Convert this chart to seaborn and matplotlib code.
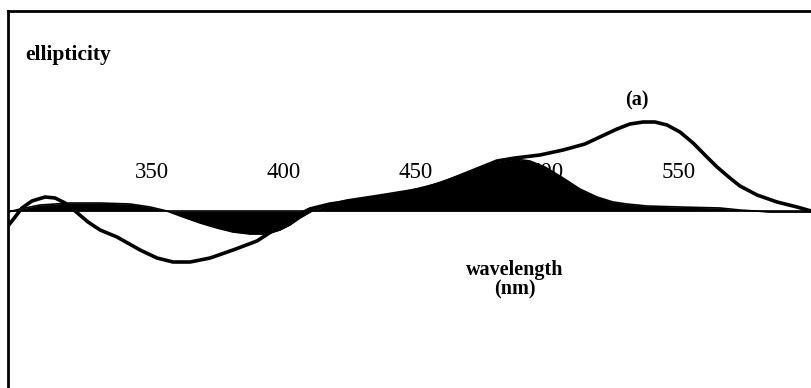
import numpy as np
import pandas as pd
import matplotlib
matplotlib.use("Agg")
import matplotlib.pyplot as plt
import seaborn as sns

# Curve (a): open line (wavelength nm, ellipticity arbitrary units)
wl_a = [296.2, 298.9, 301.5, 305.3, 310.3, 314.1, 317.9, 321.7, 326.6, 331.2,
        337.6, 346.4, 352.8, 358.9, 365.4, 373.0, 381.7, 390.8, 398.4, 403.3,
        407.1, 410.9, 418.5, 429.9, 445.1, 460.3, 471.6, 482.0, 488.8, 498.3,
        507.1, 515.4, 521.1, 527.6, 532.5, 537.5, 542.0, 546.6, 551.5, 556.5,
        561.0, 565.6, 570.5, 574.3, 580.8, 588.4, 596.0, 601.3]
ell_a = [-1.5, -0.6, 0.3, 1.0, 1.4, 1.3, 0.8, 0.0, -1.1, -1.9,
         -2.6, -3.9, -4.7, -5.1, -5.1, -4.7, -3.9, -3.0, -1.7, -0.9,
         -0.3, 0.2, 0.7, 1.1, 1.7, 2.7, 3.9, 5.0, 5.3, 5.6,
         6.1, 6.7, 7.4, 8.2, 8.7, 8.9, 8.9, 8.6, 7.9, 6.8,
         5.6, 4.4, 3.3, 2.5, 1.6, 0.9, 0.4, 0.0]

# Filled curve
wl_b = [296.2, 300.8, 308.4, 319.8, 331.2, 342.6, 350.2, 356.6, 362.7, 369.2,
        375.6, 381.7, 388.2, 394.6, 399.5, 403.3, 407.1, 411.7, 418.5, 425.0,
        437.5, 453.9, 463.0, 471.6, 479.3, 484.3, 488.8, 494.5, 500.2, 507.1,
        513.5, 520.0, 526.1, 531.4, 539.0, 551.5, 566.7, 574.3, 585.7, 601.3]
ell_b = [-0.1, 0.2, 0.6, 0.8, 0.8, 0.7, 0.4, 0.0, -0.6, -1.2,
         -1.7, -2.1, -2.3, -2.3, -1.9, -1.4, -0.7, 0.0, 0.7, 1.1,
         1.6, 2.3, 3.1, 3.9, 4.7, 5.0, 5.2, 5.0, 4.4, 3.3,
         2.2, 1.4, 0.9, 0.7, 0.5, 0.4, 0.3, 0.1, -0.1, -0.1]

tick_values = [350, 400, 450, 500, 550]
tick_labels = ["350", "400", "450", "500", "550"]

sns.set_theme(style="white")
plt.rcParams['font.family'] = ['Liberation Serif', 'DejaVu Serif']

fig = plt.figure(figsize=(8.11, 3.88), dpi=100)
ax = fig.add_axes([8 / 811, 0, 1 - 8 / 811, 1 - 11 / 388])
ax.set_xlim(296.2, 601.3)
ax.set_ylim(-17.7, 20.0)

df_a = pd.DataFrame({"wl": wl_a, "ell": ell_a})
df_b = pd.DataFrame({"wl": wl_b, "ell": ell_b})

ax.axhline(0, color="black", lw=1.2, zorder=1)
ax.fill_between(df_b["wl"], 0, df_b["ell"], color="black", lw=0, zorder=2)
sns.lineplot(data=df_b, x="wl", y="ell", color="black", lw=1.2, ax=ax, zorder=3)
sns.lineplot(data=df_a, x="wl", y="ell", color="black", lw=2.6, ax=ax, zorder=4,
             sort=False)

for v, lab in zip(tick_values, tick_labels):
    ax.text(v + 1.0, 3.9, lab, ha="center", va="center", fontsize=16.5,
            color="black", zorder=1)

ax.text(302.7, 15.6, "ellipticity", ha="left", va="center", fontsize=15.5,
        fontweight="bold", color="black")
ax.text(488.8, -6.9, "wavelength\n(nm)", ha="center", va="center", fontsize=14.5,
        fontweight="bold", color="black", linespacing=0.95)
ax.text(535.2, 11.1, "(a)", ha="center", va="center", fontsize=14.5,
        fontweight="bold", color="black")

ax.set_xticks([])
ax.set_yticks([])
ax.set_xlabel("")
ax.set_ylabel("")
for side in ["right", "bottom"]:
    ax.spines[side].set_visible(False)
for side in ["left", "top"]:
    ax.spines[side].set_visible(True)
    ax.spines[side].set_color("black")
    ax.spines[side].set_linewidth(2.0)

fig.savefig("out.png", dpi=100, facecolor="white")
